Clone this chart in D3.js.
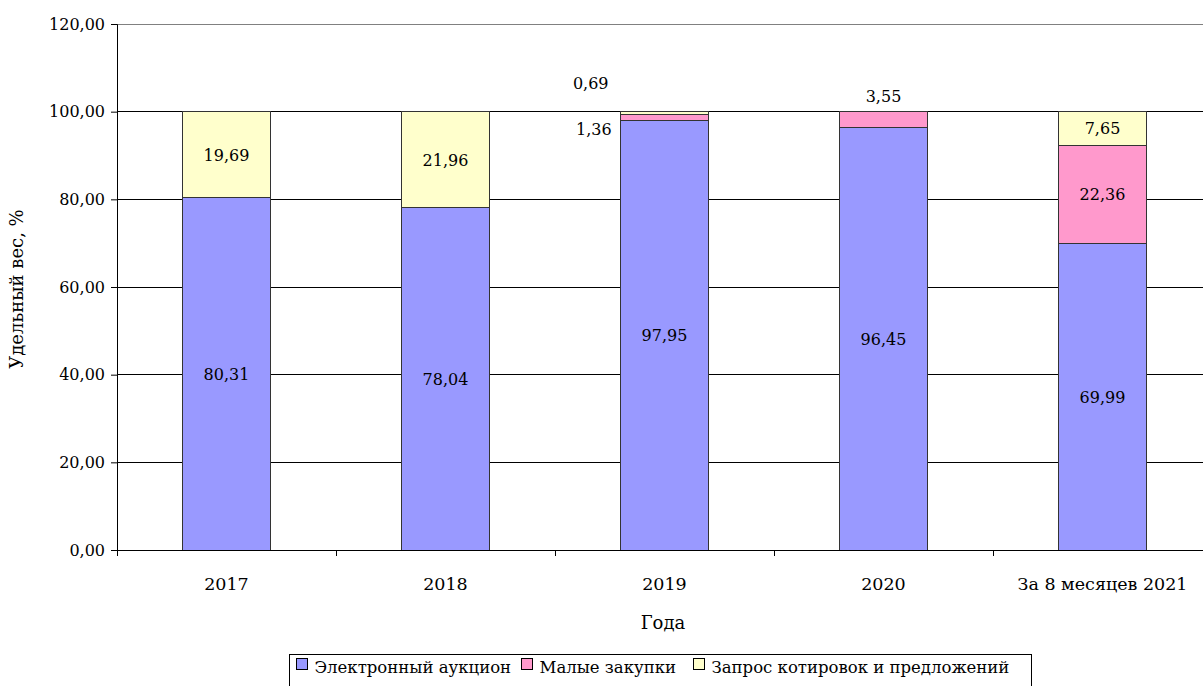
<!doctype html>
<html lang="ru">
<head>
<meta charset="utf-8">
<title>Удельный вес</title>
<script src="https://cdn.jsdelivr.net/npm/d3@7"></script>
<style>
  body { margin: 0; background: #fff; }
  svg text { font-family: "DejaVu Serif", serif; }
</style>
</head>
<body>
<div id="chart"></div>
<script>
// categories and series
var years = ["2017", "2018", "2019", "2020", "За 8 месяцев 2021"];
var auction = [80.31, 78.04, 97.95, 96.45, 69.99];
var small = [0, 0, 1.36, 3.55, 22.36];
var quotes = [19.69, 21.96, 0.69, 0, 7.65];
var seriesNames = ["Электронный аукцион", "Малые закупки", "Запрос котировок и предложений"];
var colors = ["#9999ff", "#ff99cc", "#ffffcc"];
var yTicks = [0, 20, 40, 60, 80, 100, 120];

var W = 1203, H = 686;
var margin = {left: 117, right: -9, top: 24, bottom: 136};

var svg = d3.select("#chart").append("svg").attr("width", W).attr("height", H);

var x = d3.scaleBand().domain(years).range([margin.left, W - margin.right]).paddingInner(0.6).paddingOuter(0.3);
var y = d3.scaleLinear().domain([0, 120]).range([H - margin.bottom, margin.top]);

var fmt = function(v) { return d3.format(".2f")(v).replace(".", ","); };

// gridlines
svg.append("g").selectAll("line").data(yTicks.slice(1)).enter().append("line")
    .attr("x1", margin.left).attr("x2", W)
    .attr("y1", function(d) { return y(d); }).attr("y2", function(d) { return y(d); })
    .attr("stroke", function(d) { return d == 120 ? "#808080" : "#000"; })
    .attr("stroke-width", 1).attr("shape-rendering", "crispEdges");

// stack data
var rows = years.map(function(yr, i) { return {year: yr, a: auction[i], s: small[i], q: quotes[i]}; });
var stack = d3.stack().keys(["a", "s", "q"])(rows);

svg.append("g").selectAll("g").data(stack).enter().append("g")
    .attr("fill", function(d, i) { return colors[i]; })
    .selectAll("rect").data(function(d) { return d.filter(function(p) { return p[1] - p[0] > 0; }); })
    .enter().append("rect")
    .attr("x", function(d) { return x(d.data.year); })
    .attr("width", x.bandwidth())
    .attr("y", function(d) { return y(d[1]); })
    .attr("height", function(d) { return y(d[0]) - y(d[1]); })
    .attr("stroke", "#333").attr("stroke-width", 1).attr("shape-rendering", "crispEdges");

// value labels
var labels = [];
stack.forEach(function(layer, li) {
  layer.forEach(function(p) {
    var v = p[1] - p[0];
    if (v <= 0) return;
    var cx = x(p.data.year) + x.bandwidth() / 2, cy = y((p[0] + p[1]) / 2) + 6, anchor = "middle";
    if (v < 5) {
      if (p.data.year == "2019" && li == 1) { cx = x(p.data.year) - 9; cy = y(p[1]) + 20; anchor = "end"; }
      else if (p.data.year == "2019" && li == 2) { cy = y(p[1]) - 23; cx = x(p.data.year) - 30; }
      else { cy = y(p[1]) - 10; }
    }
    labels.push({x: cx, y: cy, t: fmt(v), a: anchor});
  });
});
svg.append("g").selectAll("text").data(labels).enter().append("text")
    .attr("x", function(d) { return d.x; }).attr("y", function(d) { return d.y; })
    .attr("text-anchor", function(d) { return d.a; })
    .attr("font-size", 16).attr("fill", "#000")
    .text(function(d) { return d.t; });

// y axis
var yAxis = d3.axisLeft(y).tickValues(yTicks).tickSize(6).tickFormat(fmt);
var gy = svg.append("g").attr("transform", "translate(" + margin.left + ",0)").call(yAxis);
gy.selectAll("text").attr("font-size", 16).attr("fill", "#000").attr("dx", "-3");
gy.selectAll("line,path").attr("stroke", "#000");

// x axis
var base = y(0);
svg.append("line").attr("x1", margin.left - 6).attr("x2", W).attr("y1", base).attr("y2", base)
    .attr("stroke", "#000").attr("shape-rendering", "crispEdges");
var step = x.step();
var bounds = d3.range(years.length + 1).map(function(i) { return margin.left + i * step; });
svg.append("g").selectAll("line").data(bounds).enter().append("line")
    .attr("x1", function(d) { return d; }).attr("x2", function(d) { return d; })
    .attr("y1", base).attr("y2", base + 6).attr("stroke", "#000").attr("shape-rendering", "crispEdges");
svg.append("g").selectAll("text").data(years).enter().append("text")
    .attr("x", function(d) { return x(d) + x.bandwidth() / 2; }).attr("y", base + 40)
    .attr("text-anchor", "middle").attr("font-size", 17.5).text(function(d) { return d; });

// axis titles
svg.append("text").attr("x", 663).attr("y", 629).attr("text-anchor", "middle").attr("font-size", 18).text("Года");
svg.append("text").attr("transform", "translate(23,289) rotate(-90)").attr("text-anchor", "middle")
    .attr("font-size", 18).text("Удельный вес, %");

// legend
var lg = svg.append("g").attr("transform", "translate(289.5,654.5)");
lg.append("rect").attr("width", 742).attr("height", 40).attr("fill", "#fff").attr("stroke", "#000");
var offs = [7, 232, 404];
seriesNames.forEach(function(n, i) {
  var it = lg.append("g").attr("transform", "translate(" + offs[i] + ",0)");
  it.append("rect").attr("x", 0).attr("y", 4).attr("width", 11).attr("height", 11)
      .attr("fill", colors[i]).attr("stroke", "#000");
  it.append("text").attr("x", 18).attr("y", 18).attr("font-size", 16.5).text(n);
});
</script>
</body>
</html>
